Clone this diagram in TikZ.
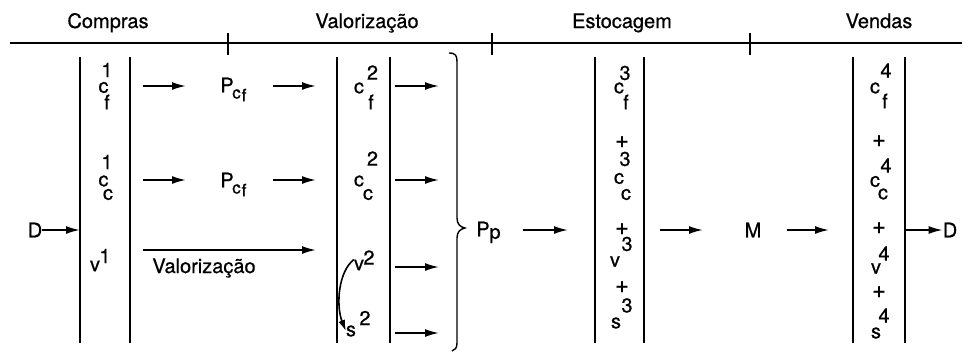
\documentclass[tikz,border=0pt]{standalone}
\usepackage{fontspec}
\setmainfont{TeX Gyre Heros}[FakeBold=0.7]
\usetikzlibrary{arrows.meta}
\tikzset{
  t/.style={inner sep=0pt, font=\fontsize{20}{24}\selectfont},
  ts/.style={inner sep=0pt, font=\fontsize{17}{20}\selectfont},
  tp/.style={inner sep=0pt, font=\fontsize{24}{28}\selectfont},
  hdr/.style={inner sep=0pt, anchor=base, font=\fontsize{20}{24}\selectfont},
  bar/.style={line width=1.4pt},
  arr/.style={line width=1.8pt, -{Latex[length=14pt,width=8pt]}},
}
\begin{document}
\begin{tikzpicture}[x=1pt,y=-1pt]
\useasboundingbox (0,0) rectangle (968,351);
% header
\node[hdr] (hcompras) at (108,28) {Compras};
\node[hdr] (hvalor) at (367,28) {Valorização};
\node[hdr] (hestoc) at (622,28) {Estocagem};
\node[hdr] (hvendas) at (879,28) {Vendas};
\coordinate (hl) at (10,43); \coordinate (hr) at (962,43);
\draw[bar] (hl) -- (hr);
\foreach \x/\n in {228/ta,492/tb,750/tc}{
  \coordinate (\n1) at (\x,33); \coordinate (\n2) at (\x,55);
  \draw[bar] (\n1) -- (\n2);
}
% vertical bars
\foreach \x/\n in {80/c1l,130/c1r,337/c2l,390/c2r,595/c3l,644/c3r,853/c4l,905/c4r}{
  \coordinate (\n t) at (\x,57); \coordinate (\n b) at (\x,343);
  \draw[bar] (\n t) -- (\n b);
}
% column 1
\node[t] (a1c) at (103.5,87.5) {c};
\node[t] (a1s) at (107,70) {1};
\node[t] (a1b) at (107,102) {f};
\node[t] (a2c) at (103.5,181) {c};
\node[t] (a2s) at (107,162) {1};
\node[t] (a2b) at (108,194.5) {c};
\node[t] (a3v) at (95,266) {v};
\node[t] (a3s) at (105,256) {1};
% P_cf
\node[t] (p1) at (227,85) {P};
\node[ts] (p1c) at (236.5,94) {c};
\node[ts] (p1f) at (244,95) {f};
\node[t] (p2) at (227,180) {P};
\node[ts] (p2c) at (236.5,189) {c};
\node[ts] (p2f) at (244,190) {f};
% column 2
\node[t] (b1c) at (359,88) {c};
\node[t] (b1s) at (372.5,72.5) {2};
\node[t] (b1b) at (371,102) {f};
\node[t] (b2c) at (359,181) {c};
\node[t] (b2s) at (372.5,158.5) {2};
\node[t] (b2b) at (368,194.5) {c};
\node[t] (b3v) at (359,265) {v};
\node[t] (b3s) at (369,257.5) {2};
\node[t] (b4v) at (351,331) {s};
\node[t] (b4s) at (365,318) {2};
\draw[line width=1.6pt, -{Latex[length=11pt,width=7pt]}] (b3v.north west) .. controls (338,272) and (336,306) .. (b4v.west);
% brace and P_p
\draw[line width=1.4pt] (449,53) .. controls (456,53) and (457,56) .. (457,62) -- (457,218) .. controls (457,224) and (460,227) .. (465,228) .. controls (460,229) and (457,232) .. (457,238) -- (457,343) .. controls (457,348) and (455,350) .. (452,351);
\node[t] (pp) at (483,229) {P};
\node[t] (ppb) at (495,235.5) {p};
% column 3
\node[t] (g1c) at (619,88) {c};
\node[t] (g1s) at (625,73) {3};
\node[t] (g1b) at (626,102) {f};
\node[tp] (g2p) at (622,142) {+};
\node[t] (g2s) at (625,159) {3};
\node[t] (g2c) at (619,178.5) {c};
\node[t] (g2b) at (626,194.5) {c};
\node[tp] (g3p) at (622,229) {+};
\node[t] (g3s) at (627,244) {3};
\node[t] (g3v) at (615,261.5) {v};
\node[tp] (g4p) at (622,287) {+};
\node[t] (g4s) at (627,305.5) {3};
\node[t] (g4v) at (616,323) {s};
% M
\node[t] (m) at (753,230) {M};
% column 4
\node[t] (d1s) at (886,70.5) {4};
\node[t] (d1c) at (875,88) {c};
\node[t] (d1b) at (885,101) {f};
\node[tp] (d2p) at (879,141) {+};
\node[t] (d2s) at (886,165.5) {4};
\node[t] (d2c) at (875,181.5) {c};
\node[t] (d2b) at (883,194) {c};
\node[tp] (d3p) at (879,228) {+};
\node[t] (d3s) at (884,253.5) {4};
\node[t] (d3v) at (876,268.5) {v};
\node[tp] (d4p) at (879,292) {+};
\node[t] (d4s) at (884,315.5) {4};
\node[t] (d4v) at (876,333) {s};
% D nodes
\node[t] (din) at (35,230) {D};
\node[t] (dout) at (950,230) {D};
% arrow end coordinates
\coordinate (c1in) at (80,230);
\coordinate (r1a) at (143,86); \coordinate (r1b) at (186,86);
\coordinate (r1c) at (273,86); \coordinate (r1d) at (316,86);
\coordinate (r2a) at (143,180); \coordinate (r2b) at (186,180);
\coordinate (r2c) at (273,180); \coordinate (r2d) at (316,180);
\coordinate (r3a) at (143,250); \coordinate (r3b) at (316,250);
\foreach \y/\n in {86/o1,180/o2,267/o3,333/o4}{
  \coordinate (\n a) at (395,\y); \coordinate (\n b) at (439,\y);
  \draw[arr] (\n a) -- (\n b);
}
\coordinate (ppa) at (523,230); \coordinate (ppz) at (568,230);
\coordinate (ma) at (660,230); \coordinate (mb) at (703,230);
\coordinate (mc) at (787,230); \coordinate (md) at (829,230);
\coordinate (c4out) at (905,230);
% arrows
\draw[arr] (din.east) -- (c1in);
\draw[arr] (r1a) -- (r1b);
\draw[arr] (r1c) -- (r1d);
\draw[arr] (r2a) -- (r2b);
\draw[arr] (r2c) -- (r2d);
\draw[arr] (r3a) -- (r3b);
\node[hdr] (lvalor) at (204,273) {Valorização};
\draw[arr] (ppa) -- (ppz);
\draw[arr] (ma) -- (mb);
\draw[arr] (mc) -- (md);
\draw[arr] (c4out) -- (dout.west);
\end{tikzpicture}
\end{document}
